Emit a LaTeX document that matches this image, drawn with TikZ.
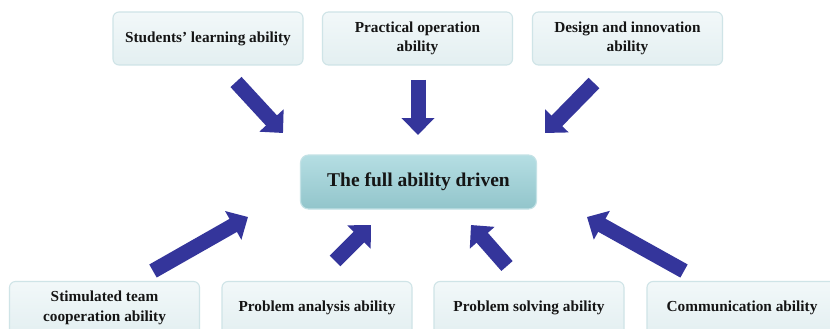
\documentclass[tikz,border=0pt]{standalone}
\usepackage{fontspec}
\setmainfont{Liberation Serif}
\usetikzlibrary{arrows.meta}
\definecolor{boxtop}{HTML}{F2F8F9}
\definecolor{boxbot}{HTML}{E3EFF1}
\definecolor{boxline}{HTML}{CFE4E7}
\definecolor{hubtop}{HTML}{B5DEE3}
\definecolor{hubbot}{HTML}{92C5CB}
\definecolor{hubline}{HTML}{C4E2E6}
\definecolor{arrowblue}{HTML}{34359B}
\definecolor{textdark}{HTML}{151515}
\tikzset{
  abilitybox/.style={rounded corners=6pt, draw=boxline, line width=1.1pt,
    top color=boxtop, bottom color=boxbot, minimum width=190pt,
    minimum height=53pt, align=center, text=textdark,
    font=\bfseries\fontsize{15.3}{19.5}\selectfont},
  hubbox/.style={rounded corners=8pt, draw=hubline, line width=1.1pt,
    top color=hubtop, bottom color=hubbot, minimum width=236pt,
    minimum height=54pt, align=center, text=textdark,
    font=\bfseries\fontsize{19.5}{23}\selectfont},
  blockarrow/.style={line width=15pt, draw=arrowblue,
    -{Triangle[width=32pt,length=17pt]}}
}
\begin{document}
\begin{tikzpicture}[x=1pt,y=-1pt]
\useasboundingbox (0,0) rectangle (830,329);
\clip (0,0) rectangle (830,329);
\fill[white] (0,0) rectangle (830,329);

% central node
\node[hubbox] (hub) at (418.5,182) {The full ability driven};

% upper row
\node[abilitybox] (learn) at (208,38.5) {Students{\char"27} learning ability};
\node[abilitybox] (pract) at (417.5,38.5) {Practical operation\\ability};
\node[abilitybox] (design) at (627.5,38.5) {Design and innovation\\ability};

% lower row
\node[abilitybox] (team) at (104.5,308) {Stimulated team\\cooperation ability};
\node[abilitybox] (analysis) at (317,308) {Problem analysis ability};
\node[abilitybox] (solving) at (529,308) {Problem solving ability};
\node[abilitybox] (comm) at (742,308) {Communication ability};

% arrow end points
\coordinate (a1s) at (236,82);  \coordinate (a1e) at (283,133);
\coordinate (a2s) at (418,80);  \coordinate (a2e) at (418,135);
\coordinate (a3s) at (594,83);  \coordinate (a3e) at (545,133);
\coordinate (b1s) at (153,271); \coordinate (b1e) at (248,217);
\coordinate (b2s) at (335,261); \coordinate (b2e) at (371,225);
\coordinate (b3s) at (507,266); \coordinate (b3e) at (471,225);
\coordinate (b4s) at (684,271); \coordinate (b4e) at (587,217);

\draw[blockarrow] (a1s) -- (a1e);
\draw[blockarrow] (a2s) -- (a2e);
\draw[blockarrow] (a3s) -- (a3e);
\draw[blockarrow] (b1s) -- (b1e);
\draw[blockarrow] (b2s) -- (b2e);
\draw[blockarrow] (b3s) -- (b3e);
\draw[blockarrow] (b4s) -- (b4e);
\end{tikzpicture}
\end{document}
